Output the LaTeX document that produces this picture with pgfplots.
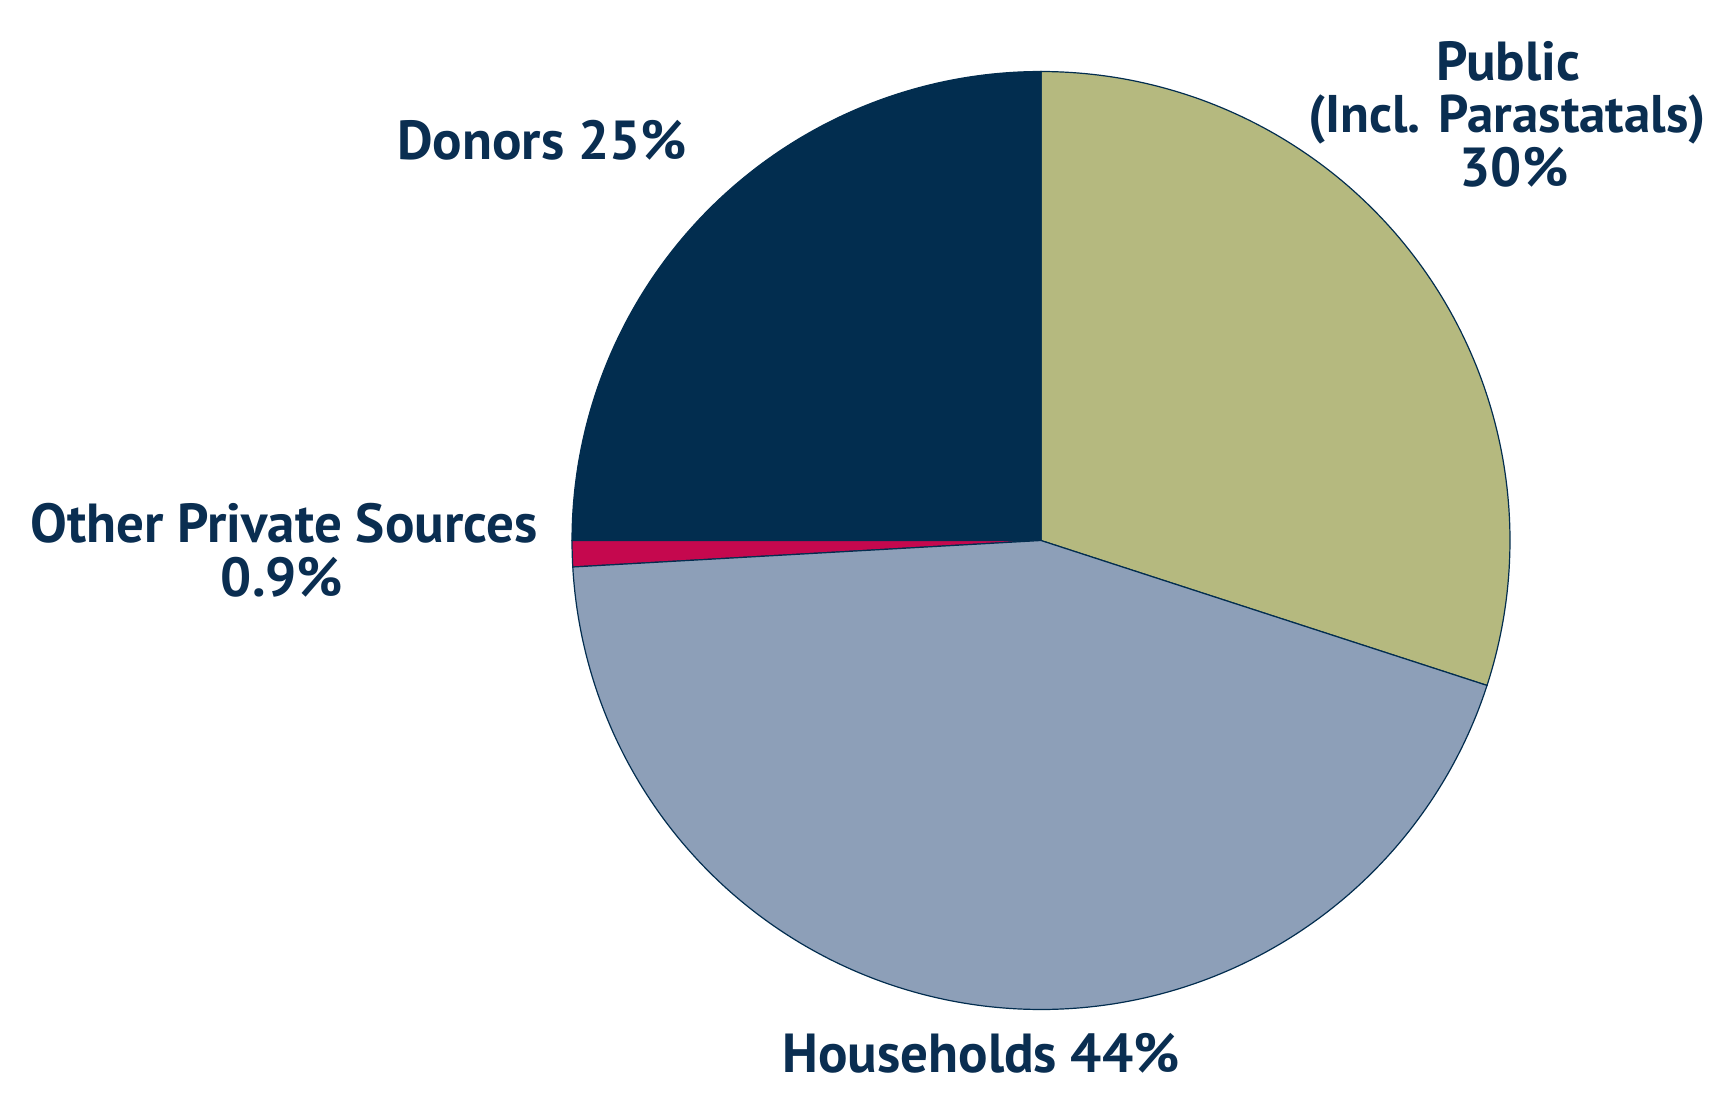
\documentclass[border=0pt]{standalone}
\usepackage{fontspec}
\setmainfont{PT Sans}
\usepackage{pgfplots}
\pgfplotsset{compat=1.18}
\definecolor{navy}{HTML}{022D4F}
\definecolor{txt}{HTML}{0A2E51}
\definecolor{olive}{HTML}{B5B97F}
\definecolor{hh}{HTML}{8D9FB8}
\definecolor{crim}{HTML}{C5084E}
% shares in per cent
\def\vPublic{30}
\def\vHouse{44}
\def\vOther{0.9}
\def\vDonor{25}
\pgfmathsetmacro\aPubEnd{90-\vPublic*3.6}
\pgfmathsetmacro\aDonEnd{90+\vDonor*3.6}
\pgfmathsetmacro\aOthEnd{\aDonEnd+\vOther*3.6}
\pgfmathsetmacro\aHouEnd{\aPubEnd+360}
\def\cx{1041}
\def\cy{553.5}
\def\rr{469}
\begin{document}
\begin{tikzpicture}
\begin{axis}[width=857pt,height=547pt,scale only axis,
  xmin=0,xmax=1714,ymin=0,ymax=1094,hide axis,clip=false]
\coordinate (bl) at (rel axis cs:0,0);
\coordinate (tr) at (rel axis cs:1,1);
% Public
\addplot[fill=olive,draw=navy,line width=0.6pt,domain=\aPubEnd:90,samples=120,variable=\t]
  ({\cx+\rr*cos(\t)},{\cy+\rr*sin(\t)}) -- (axis cs:\cx,\cy) -- cycle;
% Donors
\addplot[fill=navy,draw=navy,line width=0.6pt,domain=90:\aDonEnd,samples=120,variable=\t]
  ({\cx+\rr*cos(\t)},{\cy+\rr*sin(\t)}) -- (axis cs:\cx,\cy) -- cycle;
% Other private
\addplot[fill=crim,draw=navy,line width=0.6pt,domain=\aDonEnd:\aOthEnd,samples=10,variable=\t]
  ({\cx+\rr*cos(\t)},{\cy+\rr*sin(\t)}) -- (axis cs:\cx,\cy) -- cycle;
% Households
\addplot[fill=hh,draw=navy,line width=0.6pt,domain=\aOthEnd:\aHouEnd,samples=200,variable=\t]
  ({\cx+\rr*cos(\t)},{\cy+\rr*sin(\t)}) -- (axis cs:\cx,\cy) -- cycle;
\begin{scope}[every node/.style={text=txt,font=\fontsize{27.5}{28}\selectfont\bfseries,align=center,inner sep=0pt}]
\node[anchor=base] at (axis cs:542,934) {Donors 25\%};
\node[anchor=base] at (axis cs:1508,1013) {Public};
\node[anchor=base,font=\fontsize{26.5}{27}\selectfont\bfseries] at (axis cs:1507,961) {(Incl. Parastatals)};
\node[anchor=base] at (axis cs:1514,907) {30\%};
\node[anchor=base] at (axis cs:284,552) {Other Private Sources};
\node[anchor=base] at (axis cs:282,498) {0.9\%};
\node[anchor=base] at (axis cs:981,22) {Households 44\%};
\end{scope}
\end{axis}
\pgfresetboundingbox
\path (bl) rectangle (tr);
\end{tikzpicture}
\end{document}
